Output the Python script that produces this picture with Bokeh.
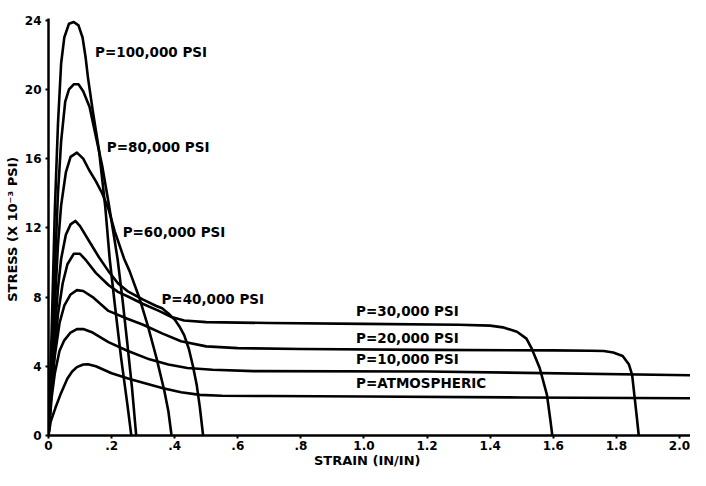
from bokeh.plotting import figure
from bokeh.models import FixedTicker, Range1d, ColumnDataSource
from bokeh.embed import file_html
from bokeh.resources import INLINE
from bokeh.core.properties import value

# ---- data (strain in in/in, stress in 10^3 psi) ----
strain_100k = [0, 0.01, 0.02, 0.03, 0.04, 0.05, 0.065, 0.08, 0.095, 0.108, 0.118, 0.125,
               0.14, 0.16, 0.18, 0.194, 0.21, 0.23, 0.25, 0.2625]
stress_100k = [0, 6, 13, 18, 21.5, 23, 23.8, 23.9, 23.7, 23.0, 21.8, 20.7,
               18.8, 16.5, 13.2, 10.2, 7.6, 4.5, 1.8, 0]

strain_80k = [0, 0.01, 0.02, 0.03, 0.04, 0.053, 0.065, 0.08, 0.095, 0.11, 0.13, 0.15,
              0.17, 0.19, 0.205, 0.219, 0.235, 0.25, 0.265, 0.278]
stress_80k = [0, 4.5, 9.5, 14, 17, 19.3, 20.0, 20.3, 20.3, 19.9, 19.0, 17.3,
              15.6, 13.5, 11.8, 10.2, 7.8, 5.3, 2.7, 0]

strain_60k = [0, 0.01, 0.02, 0.03, 0.04, 0.055, 0.07, 0.09, 0.11, 0.13, 0.15, 0.17,
              0.19, 0.21, 0.24, 0.257, 0.289, 0.314, 0.342, 0.367, 0.38, 0.39]
stress_60k = [0, 3.5, 7.5, 11, 13.3, 15.2, 16.1, 16.35, 16.0, 15.3, 14.7, 14.0,
              13.1, 11.8, 10.2, 9.5, 7.9, 6.4, 4.5, 2.6, 1.4, 0]

strain_40k = [0, 0.01, 0.02, 0.03, 0.04, 0.055, 0.07, 0.085, 0.1, 0.13, 0.16, 0.19,
              0.22, 0.25, 0.3, 0.34, 0.36, 0.38, 0.4, 0.415, 0.43, 0.445, 0.458,
              0.47, 0.48, 0.49]
stress_40k = [0, 3, 6, 8.5, 10.2, 11.6, 12.2, 12.4, 12.1, 11.2, 10.3, 9.5,
              8.8, 8.35, 7.85, 7.5, 7.35, 7.05, 6.7, 6.3, 5.8, 5.0, 4.0,
              2.9, 1.6, 0]

strain_30k = [0, 0.01, 0.02, 0.03, 0.045, 0.06, 0.08, 0.1, 0.12, 0.15, 0.19, 0.22,
              0.25, 0.3, 0.35, 0.39, 0.43, 0.5, 0.7, 1.0, 1.3, 1.4, 1.44, 1.485,
              1.515, 1.531, 1.557, 1.58, 1.59, 1.597]
stress_30k = [0, 2.7, 5, 7, 8.8, 9.9, 10.5, 10.5, 10.1, 9.4, 8.7, 8.3,
              8.05, 7.6, 7.2, 6.85, 6.65, 6.55, 6.5, 6.45, 6.4, 6.35, 6.25, 6.0,
              5.6, 5.05, 3.9, 2.35, 1.0, 0]

strain_20k = [0, 0.01, 0.02, 0.035, 0.05, 0.07, 0.09, 0.11, 0.14, 0.19, 0.25, 0.3,
              0.36, 0.42, 0.5, 0.6, 0.8, 1.2, 1.6, 1.72, 1.76, 1.79, 1.82, 1.84,
              1.85, 1.857, 1.864, 1.871]
stress_20k = [0, 2.8, 4.6, 6.5, 7.5, 8.15, 8.4, 8.35, 8.0, 7.2, 6.75, 6.4,
              5.9, 5.45, 5.15, 5.05, 5.0, 4.95, 4.92, 4.9, 4.88, 4.8, 4.6, 4.1,
              3.5, 2.35, 1.2, 0]

strain_10k = [0, 0.01, 0.02, 0.035, 0.05, 0.07, 0.09, 0.11, 0.14, 0.19, 0.25, 0.32,
              0.38, 0.44, 0.52, 0.65, 1.2, 2.04]
stress_10k = [0, 2.2, 3.6, 4.9, 5.5, 5.95, 6.15, 6.15, 5.95, 5.4, 4.9, 4.4,
              4.1, 3.9, 3.8, 3.72, 3.7, 3.48]

strain_atm = [0, 0.007, 0.022, 0.0375, 0.06, 0.075, 0.09, 0.11, 0.125, 0.15, 0.2, 0.26,
              0.3, 0.36, 0.42, 0.48, 0.55, 0.7, 1.0, 1.5, 2.04]
stress_atm = [0, 0.8, 1.6, 2.35, 3.3, 3.7, 3.95, 4.1, 4.12, 4.0, 3.6, 3.25,
              3.05, 2.75, 2.5, 2.35, 2.3, 2.28, 2.25, 2.2, 2.15]

label_text = ["P=100,000 PSI", "P=80,000 PSI", "P=60,000 PSI", "P=40,000 PSI",
              "P=30,000 PSI", "P=20,000 PSI", "P=10,000 PSI", "P=ATMOSPHERIC"]
label_x = [0.1475, 0.185, 0.235, 0.358, 0.975, 0.975, 0.975, 0.975]
label_y = [22.16, 16.7, 11.77, 7.86, 7.18, 5.63, 4.42, 3.04]

x_ticks = [0, 0.2, 0.4, 0.6, 0.8, 1.0, 1.2, 1.4, 1.6, 1.8, 2.0]
x_tick_labels = ["0", ".2", ".4", ".6", ".8", "1.0", "1.2", "1.4", "1.6", "1.8", "2.0"]
y_ticks = [0, 4, 8, 12, 16, 20, 24]

# ---- figure ----
p = figure(width=690, height=470, output_backend="svg", toolbar_location=None,
           x_range=Range1d(0, 2.035), y_range=Range1d(0, 24.1),
           min_border_left=48, min_border_right=0, min_border_top=18,
           min_border_bottom=0)
p.outline_line_color = None
p.grid.visible = False
p.background_fill_color = "white"
p.border_fill_color = "white"

FONT = "DejaVu Sans"
for ax in (p.xaxis, p.yaxis):
    ax.axis_line_width = 2.5
    ax.axis_line_color = "black"
    ax.major_tick_line_width = 2
    ax.major_tick_out = 3
    ax.major_tick_in = 0
    ax.minor_tick_line_color = None
    ax.major_label_text_font = FONT
    ax.major_label_text_font_style = "bold"
    ax.major_label_text_font_size = "12px"
    ax.major_label_text_color = "black"
    ax.axis_label_text_font = FONT
    ax.axis_label_text_font_style = "bold"
    ax.axis_label_text_font_size = "13px"
    ax.axis_label_text_color = "black"

p.xaxis.ticker = FixedTicker(ticks=x_ticks)
p.xaxis.major_label_overrides = {t: s for t, s in zip(x_ticks, x_tick_labels)}
p.xaxis.major_label_standoff = 2
p.xaxis.axis_label = "STRAIN  (IN/IN)"
p.xaxis.axis_label_standoff = 0

p.yaxis.ticker = FixedTicker(ticks=y_ticks)
p.yaxis.major_label_standoff = 4
p.yaxis.axis_label = "STRESS  (X 10⁻³ PSI)"
p.yaxis.axis_label_standoff = 2

curves = [(strain_100k, stress_100k), (strain_80k, stress_80k), (strain_60k, stress_60k),
          (strain_40k, stress_40k), (strain_30k, stress_30k), (strain_20k, stress_20k),
          (strain_10k, stress_10k), (strain_atm, stress_atm)]
for xs, ys in curves:
    p.line(xs, ys, line_color="black", line_width=2.6, line_join="round", line_cap="round")

src = ColumnDataSource(dict(x=label_x, y=label_y, t=label_text))
p.text(x="x", y="y", text="t", source=src, text_font=value(FONT), text_font_style="bold",
       text_font_size="13.5px", text_align="left", text_baseline="middle", text_color="black")

open("out.html", "w").write(file_html(p, INLINE))
